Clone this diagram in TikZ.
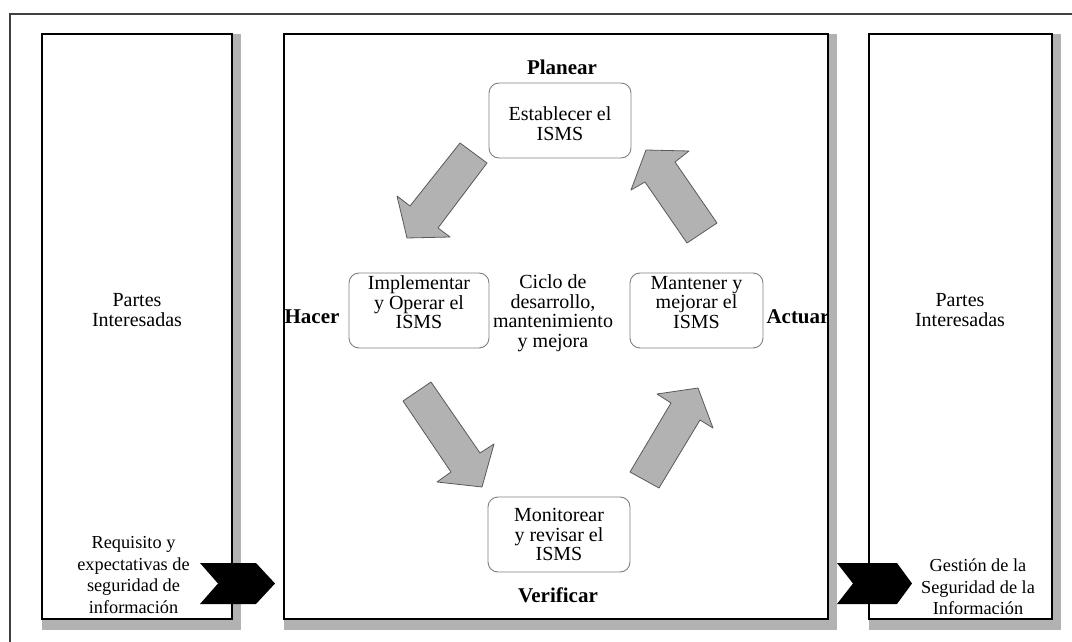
\documentclass[tikz,border=0pt]{standalone}
\usepackage{fontspec}
\setmainfont{Liberation Serif}

\tikzset{
  panel/.style={draw=black, line width=1.4pt, fill=white},
  shade/.style={fill=gray!60, draw=none},
  stage/.style={draw=gray, rounded corners=10pt, line width=0.9pt, minimum height=75pt},
  txt/.style={align=center, inner sep=0pt, font=\fontsize{20}{19.5}\selectfont},
  note/.style={align=center, inner sep=0pt, font=\fontsize{18.3}{21.7}\selectfont},
  phase/.style={inner sep=0pt, font=\fontsize{21}{21}\selectfont\bfseries},
  cyclearrow/.style={fill=gray!60, draw=black!65, line width=0.8pt, line join=round},
  chevron/.style={fill=black}
}

\begin{document}
\begin{tikzpicture}[x=1pt, y=-1pt]
\useasboundingbox (0,0) rectangle (1072,642);
% outer frame
\draw [black!75, line width=2pt] (10,642) -- (10,14) -- (1072,14);
% panels with shadows
\foreach \l/\r in {42/232, 284/828, 869/1052} {
  \fill [shade] (\l,34) rectangle (\r+9,630);
  \draw [panel] (\l,34) rectangle (\r,619);
}
\node [txt] (leftParts) at (137,310) {Partes\\Interesadas};
\node [txt] (rightParts) at (960,310) {Partes\\Interesadas};
\node [note] (needs) at (133.5,575) {Requisito y\\expectativas de\\seguridad de\\información};
\node [note] (result) at (978,587) {Gestión de la\\Seguridad de la\\Información};
% chevrons
\fill [chevron] (200,563) -- (256,563) -- (275,583.5) -- (256,604) -- (200,604) -- (218,583.5) -- cycle;
\fill [chevron] (837,563) -- (897,563) -- (912,583.5) -- (897,604) -- (837,604) -- (853,583.5) -- cycle;
% cycle stages
\node [stage, minimum width=142pt] (plan) at (560,120.5) {};
\node [stage, minimum width=140pt] (do) at (419,310.5) {};
\node [stage, minimum width=133pt] (act) at (696.5,310.5) {};
\node [stage, minimum width=142pt] (check) at (559,534.5) {};
\node [txt] (planText) at ([yshift=-3pt]plan.center) {Establecer el\\ISMS};
\node [txt] (doText) at ([yshift=8pt]do.center) {Implementar\\y Operar el\\ISMS};
\node [txt] (actText) at ([yshift=8pt]act.center) {Mantener y\\mejorar el\\ISMS};
\node [txt] (checkText) at (check.center) {Monitorear\\y revisar el\\ISMS};
\node [txt] (cycle) at (553,313) {Ciclo de\\desarrollo,\\mantenimiento\\y mejora};
% phase names
\node [phase] (planear) at (562,67) {Planear};
\node [phase] (hacer) at (312,317) {Hacer};
\node [phase] (actuar) at (798,317) {Actuar};
\node [phase] (verificar) at (558,595) {Verificar};
% block arrows
\draw [cyclearrow] (460,143) -- (487,163) -- (438,228) -- (450,237) -- (407,238) -- (397,196) -- (410,206) -- cycle;
\draw [cyclearrow] (403,401) -- (431,382) -- (480,453) -- (494,444) -- (482,487) -- (437,482) -- (451,472) -- cycle;
\draw [cyclearrow] (630,472) -- (659,488) -- (700,420) -- (713,428) -- (698,388) -- (657,394) -- (671,403) -- cycle;
\draw [cyclearrow] (717,223) -- (687,243) -- (645,182) -- (631,190) -- (646,150) -- (689,151) -- (675,162) -- cycle;
\end{tikzpicture}
\end{document}
